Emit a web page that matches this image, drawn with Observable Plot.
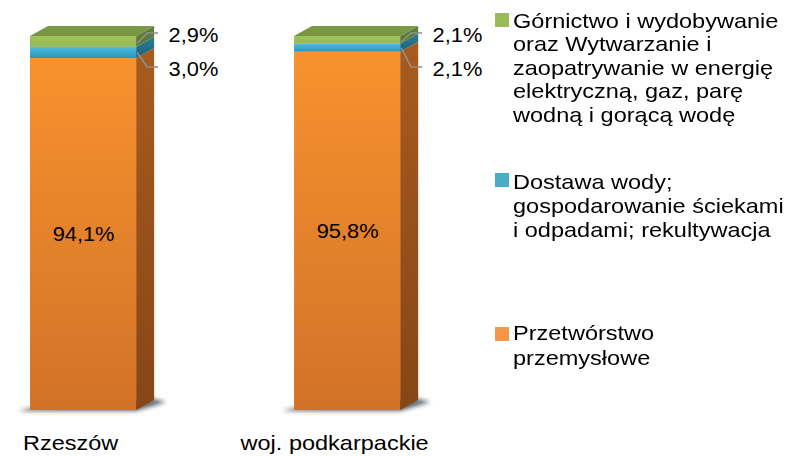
<!DOCTYPE html>
<html><head><meta charset="utf-8">
<script src="https://cdn.jsdelivr.net/npm/d3@7"></script>
<script src="https://cdn.jsdelivr.net/npm/@observablehq/plot@0.6"></script>
<style>
body{margin:0;background:#fff;}
#wrap{position:relative;width:794px;height:456px;font-family:"Liberation Sans",Arial,sans-serif;overflow:hidden;}
#wrap svg{position:absolute;left:0;top:0;}
.leg{position:absolute;left:513px;font-size:21px;line-height:23.5px;color:#000;transform:scaleX(1.12);transform-origin:0 0;white-space:nowrap;}
.sw{position:absolute;left:495px;width:14px;height:14px;}
</style></head><body><div id="wrap"></div>
<script>
// ---- data ----
const categories = ["Rzeszów", "woj. podkarpackie"];
const seriesKeys = ["P", "D", "G"]; // stacking order bottom -> top
const seriesNames = {
  G: ["Górnictwo i wydobywanie", "oraz Wytwarzanie i", "zaopatrywanie w energię", "elektryczną, gaz, parę", "wodną i gorącą wodę"],
  D: ["Dostawa wody;", "gospodarowanie ściekami", "i odpadami; rekultywacja"],
  P: ["Przetwórstwo", "przemysłowe"]
};
const przetworstwo = [94.1, 95.8];
const dostawa = [3.0, 2.1];
const gornictwo = [2.9, 2.1];

const seriesColors = {P: "#F79646", D: "#4BACC6", G: "#9BBB59"};

const data = [];
categories.forEach((c, i) => {
  const total = przetworstwo[i] + dostawa[i] + gornictwo[i];
  data.push({cat: c, key: "P", value: przetworstwo[i], total});
  data.push({cat: c, key: "D", value: dostawa[i], total});
  data.push({cat: c, key: "G", value: gornictwo[i], total});
});
const fmt = v => d3.format(".1f")(v).replace(".", ",") + "%";

const DX = 18, DY = -10;
const NS = "http://www.w3.org/2000/svg";
function el(name, attrs, parent) {
  const e = document.createElementNS(NS, name);
  for (const k in attrs) e.setAttribute(k, attrs[k]);
  if (parent) parent.appendChild(e);
  return e;
}
function grad(defs, id, c1, c2) {
  const g = el("linearGradient", {id, x1: 0, y1: 0, x2: 0, y2: 1}, defs);
  el("stop", {offset: "0", "stop-color": c1}, g);
  el("stop", {offset: "1", "stop-color": c2}, g);
}

function bar3d(index, scales, values, dimensions, context, next) {
  const g = next(index, scales, values, dimensions, context);
  const defs = el("defs", {});
  g.insertBefore(defs, g.firstChild);
  grad(defs, "fP", "#F7922E", "#D27228");
  grad(defs, "fD", "#4DBCE0", "#2C93B8");
  grad(defs, "fG", "#9FC45C", "#93B854");
  grad(defs, "sP", "#A85B1E", "#874616");
  grad(defs, "sD", "#2A7D96", "#1F6278");
  grad(defs, "sG", "#62803A", "#5A7634");
  grad(defs, "tG", "#7C9A46", "#76923F");
  const blur = el("filter", {id: "blur", x: "-20%", y: "-200%", width: "140%", height: "500%"}, defs);
  el("feGaussianBlur", {stdDeviation: 2.2}, blur);

  const rects = Array.from(g.querySelectorAll("rect"));
  const groups = d3.group(rects, r => Math.round(+r.getAttribute("x")));
  for (const [, rs] of groups) {
    const info = rs.map(r => {
      const x = +r.getAttribute("x"), y = +r.getAttribute("y"),
            w = +r.getAttribute("width"), h = +r.getAttribute("height");
      const f = r.getAttribute("fill") || "";
      const key = (f.match(/#f([PDG])/) || [])[1];
      return {r, x1: x, x2: x + w, y1: y, y2: y + h, key};
    }).sort((a, b) => b.y1 - a.y1); // bottom first
    const bottom = info[0], top = info[info.length - 1];
    // shadow
    const sh = el("polygon", {
      points: [[bottom.x1 - 12, bottom.y2 + 1], [bottom.x2, bottom.y2 + 1],
               [bottom.x2 + DX + 12, bottom.y2 + DY + 2], [bottom.x2 + DX, bottom.y2 + DY - 1],
               [bottom.x1, bottom.y2 - 2]].map(p => p.join(",")).join(" "),
      fill: "#3b4350", opacity: 0.8, filter: "url(#blur)"
    });
    g.insertBefore(sh, defs.nextSibling);
    // side faces
    for (const s of info) {
      el("polygon", {
        points: [[s.x2, s.y2], [s.x2 + DX, s.y2 + DY], [s.x2 + DX, s.y1 + DY], [s.x2, s.y1]].map(p => p.join(",")).join(" "),
        fill: `url(#s${s.key})`
      }, g);
    }
    // top face
    el("polygon", {
      points: [[top.x1, top.y1], [top.x1 + DX, top.y1 + DY], [top.x2 + DX, top.y1 + DY], [top.x2, top.y1]].map(p => p.join(",")).join(" "),
      fill: `url(#t${top.key})`
    }, g);
    // leader lines
    const mid = info[1];
    const yt = top.y1;
    const line = pts => el("polyline", {points: pts.map(p => p.join(",")).join(" "), fill: "none", stroke: "#8f8f8f", "stroke-width": 1.6}, g);
    line([[top.x2 + 1, (top.y1 + top.y2) / 2 + 2], [top.x2 + 11, yt - 3], [top.x2 + 22, yt - 3]]);
    line([[mid.x2 + 1, (mid.y1 + mid.y2) / 2], [mid.x2 + 11, yt + 31], [mid.x2 + 22, yt + 31]]);
  }
  return g;
}

const plot = Plot.plot({
  width: 794,
  height: 456,
  x: {type: "band", domain: categories, range: [3.6, 426.6], paddingInner: 0.598, paddingOuter: 0.1, round: false, axis: null},
  y: {domain: [0, 100], range: [410, 36], axis: null},
  color: {type: "ordinal", domain: seriesKeys, range: ["url(#fP)", "url(#fD)", "url(#fG)"]},
  style: {fontFamily: "'Liberation Sans', Arial, sans-serif", background: "transparent", overflow: "visible"},
  marks: [
    Plot.barY(data, Plot.stackY({x: "cat", y: "value", fill: "key", render: bar3d})),
    Plot.text(data, Plot.stackY({filter: d => d.key === "P", x: "cat", y: "value", text: d => fmt(d.value), fontSize: 19.5, fill: "#000", lineAnchor: "middle"})),
    Plot.text(data, {filter: d => d.key === "G", x: "cat", y: "total", text: d => fmt(d.value), fontSize: 19.5, textAnchor: "start", dx: 85, dy: -1, lineAnchor: "middle", fill: "#000"}),
    Plot.text(data, {filter: d => d.key === "D", x: "cat", y: "total", text: d => fmt(d.value), fontSize: 19.5, textAnchor: "start", dx: 85, dy: 33, lineAnchor: "middle", fill: "#000"}),
    Plot.text(categories, {x: d => d, y: () => 0, dx: -13, dy: 33, fontSize: 21, lineAnchor: "middle", fill: "#000"})
  ]
});

// horizontal stretch of texts to match the reference's glyph proportions
plot.querySelectorAll("text").forEach(t => {
  const tr = t.getAttribute("transform");
  if (tr) t.setAttribute("transform", tr + " scale(1.12,1)");
  else {
    const x = +(t.getAttribute("x") || 0), y = +(t.getAttribute("y") || 0);
    t.removeAttribute("x"); t.removeAttribute("y");
    t.setAttribute("transform", `translate(${x},${y}) scale(1.12,1)`);
  }
});

const wrap = document.getElementById("wrap");
wrap.appendChild(plot);

// legend (HTML, to the right of the bars)
const legendLayout = [["G", 9, 13, 23.4], ["D", 170, 173, 24], ["P", 321, 327, 24.5]];
for (const [key, top, swTop, lh] of legendLayout) {
  const sw = document.createElement("div");
  sw.className = "sw";
  sw.style.top = swTop + "px";
  sw.style.background = seriesColors[key];
  wrap.appendChild(sw);
  const tx = document.createElement("div");
  tx.className = "leg";
  tx.style.top = top + "px";
  tx.style.lineHeight = lh + "px";
  tx.innerHTML = seriesNames[key].join("<br>");
  wrap.appendChild(tx);
}
</script>
</body></html>
